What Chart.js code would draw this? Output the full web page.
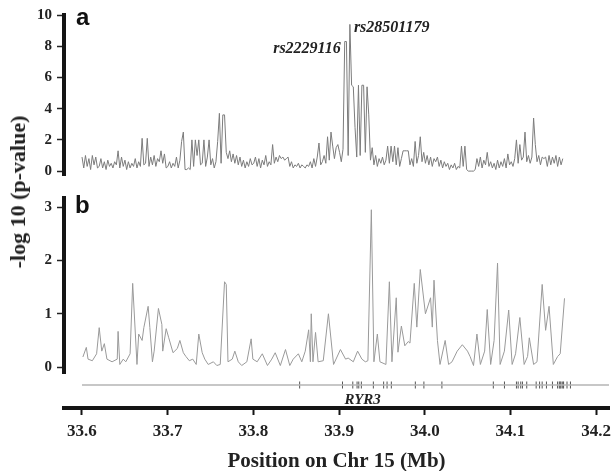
<!DOCTYPE html>
<html><head><meta charset="utf-8">
<script src="https://cdn.jsdelivr.net/npm/chart.js@4/dist/chart.umd.min.js"></script>
<style>
html,body{margin:0;padding:0;background:#fff;width:614px;height:471px;overflow:hidden;position:relative}
canvas{position:absolute;left:0}
#ytitle{position:absolute;left:18px;top:192px;transform:translate(-50%,-50%) rotate(-90deg);white-space:nowrap;font:bold 22px "Liberation Serif",serif;color:#222}
</style></head><body>
<canvas id="ca" width="614" height="186" style="top:0"></canvas>
<canvas id="cb" width="614" height="200" style="top:185px"></canvas>
<canvas id="cc" width="614" height="119" style="top:355px"></canvas>
<div id="ytitle">-log 10 (p-value)</div>
<script>
// ---- data ----
const xTicks = [33.6, 33.7, 33.8, 33.9, 34.0, 34.1, 34.2];
const xTickLabels = ['33.6', '33.7', '33.8', '33.9', '34.0', '34.1', '34.2'];
const aTicks = [0, 2, 4, 6, 8, 10];
const bTicks = [0, 1, 2, 3];

// panel a: single-SNP -log10 p, SNPs every 0.002 Mb from 33.600
const aStart = 33.600, aStep = 0.002;
const aVal = [
 0.9,0.2,1.0,0.3,0.8,0.1,1.0,0.4,0.9,0.2,
 0.3,0.8,0.2,0.6,0.1,0.7,0.3,0.5,0.2,0.6,
 0.4,1.3,0.2,0.9,0.3,0.7,0.1,0.6,0.2,0.5,
 0.3,0.8,0.2,0.6,0.3,2.1,0.4,0.5,2.1,0.3,
 0.9,0.4,1.0,0.3,0.8,0.6,1.3,0.5,1.1,0.2,
 0.3,0.6,0.2,0.5,0.3,0.9,0.2,0.7,1.9,2.5,
 0.1,0.1,0.2,0.1,2.0,0.3,2.0,1.0,2.0,0.4,
 0.5,2.0,0.3,0.9,2.0,0.4,0.8,0.2,0.6,1.9,
 3.7,0.5,3.6,3.6,1.2,0.8,1.3,0.6,1.1,0.5,
 1.0,0.4,0.9,0.3,0.7,0.2,0.6,0.3,0.8,0.4,
 0.5,0.9,0.3,0.8,0.2,0.7,0.4,1.0,0.3,0.6,
 0.4,1.7,0.5,0.9,0.6,1.0,0.8,0.9,0.7,0.8,
 0.9,0.3,0.6,0.2,0.4,0.3,0.5,0.2,0.4,0.3,
 0.2,0.4,0.3,0.6,0.2,0.8,0.3,0.9,1.8,0.4,
 0.6,1.0,0.5,2.2,0.7,2.5,1.6,0.8,1.5,1.7,
 1.2,0.6,1.4,8.3,8.3,1.0,9.4,5.5,5.4,2.8,
 0.9,5.5,1.0,5.5,5.5,1.2,5.4,3.6,0.7,1.5,
 0.4,1.0,0.3,0.8,0.5,0.9,0.4,0.7,1.6,0.5,
 1.6,0.6,1.6,0.4,1.5,0.3,0.8,1.3,1.3,1.3,
 1.3,0.4,0.8,0.3,1.9,0.5,1.0,2.2,0.6,1.2,
 0.5,1.0,0.4,0.9,0.3,0.8,0.6,0.9,0.3,0.7,
 0.2,0.6,0.3,0.5,0.1,0.4,0.2,0.5,0.1,0.3,
 0.2,1.6,0.3,1.6,0.1,0.0,0.0,0.0,0.0,0.1,
 0.8,0.3,0.9,0.2,0.7,0.4,1.2,0.3,0.6,0.2,
 0.5,0.1,0.7,0.2,0.6,0.3,0.8,0.2,1.1,0.4,
 0.6,0.3,0.8,2.0,0.5,1.7,0.7,0.9,2.5,0.6,
 1.0,0.5,0.9,3.4,1.7,0.6,1.0,0.4,0.9,0.8,
 0.9,0.3,1.0,0.4,0.9,0.5,1.0,0.3,0.9,0.4,
 0.8
];
const snpLabels = ['rs2229116', 'rs28501179'];
const snpLabelPos = [33.906, 33.912];
const snpLabelVal = [8.3, 9.4];

// panel b: haplotype-window -log10 p
const bPos = [
 33.601,33.605,33.607,33.612,33.617,33.620,33.623,33.626,33.629,33.635,
 33.641,33.642,33.644,33.648,33.651,33.656,33.659,33.664,33.666,33.670,
 33.672,33.677,33.679,33.682,33.684,33.689,33.693,33.694,33.698,33.701,
 33.706,33.711,33.714,33.718,33.721,33.725,33.729,33.733,33.736,33.740,
 33.743,33.747,33.753,33.757,33.761,33.766,33.768,33.770,33.775,33.778,
 33.782,33.786,33.792,33.797,33.799,33.804,33.810,33.816,33.821,33.825,
 33.831,33.837,33.842,33.846,33.852,33.856,33.860,33.864,33.866,33.867,
 33.869,33.872,33.875,33.881,33.887,33.893,33.901,33.907,33.910,33.916,
 33.921,33.926,33.930,33.933,33.937,33.940,33.944,33.947,33.954,33.958,
 33.961,33.966,33.968,33.972,33.976,33.980,33.982,33.987,33.990,33.994,
 34.000,34.006,34.008,34.010,34.014,34.017,34.023,34.027,34.031,34.037,
 34.043,34.049,34.052,34.056,34.060,34.064,34.069,34.072,34.076,34.080,
 34.084,34.087,34.092,34.097,34.101,34.105,34.110,34.115,34.119,34.121,
 34.126,34.130,34.136,34.140,34.144,34.149,34.154,34.157,34.162
];
const bVal = [
 0.19,0.37,0.15,0.12,0.25,0.74,0.30,0.44,0.15,0.10,
 0.15,0.67,0.05,0.15,0.10,0.25,1.57,0.05,0.62,0.50,
 0.74,1.14,0.74,0.10,0.30,1.10,0.80,0.30,0.72,0.55,
 0.27,0.35,0.50,0.27,0.20,0.12,0.15,0.05,0.62,0.27,
 0.15,0.05,0.10,0.03,0.05,1.60,1.55,0.10,0.15,0.30,
 0.10,0.03,0.10,0.53,0.15,0.10,0.25,0.03,0.15,0.27,
 0.03,0.33,0.03,0.15,0.25,0.10,0.30,0.70,0.10,1.00,
 0.10,0.65,0.10,0.12,1.00,0.05,0.33,0.15,0.17,0.10,
 0.30,0.15,0.10,0.12,2.95,0.10,0.62,0.10,0.05,1.60,
 0.10,1.30,0.28,0.77,0.40,0.48,0.45,1.57,0.75,1.83,
 1.00,1.30,0.75,1.63,0.50,0.05,0.50,0.05,0.10,0.30,
 0.42,0.30,0.20,0.03,0.62,0.05,0.30,1.08,0.05,0.50,
 1.95,0.05,0.30,1.07,0.05,0.25,0.93,0.05,0.20,0.55,
 0.05,0.10,1.55,0.69,1.14,0.05,0.20,0.25,1.29
];

// gene track (RYR3)
const geneName = 'RYR3';
const geneSpan = [33.600, 34.215];
const exonPos = [33.854,33.904,33.916,33.921,33.923,33.926,33.940,33.952,33.956,33.961,
 33.989,33.999,34.020,34.080,34.093,34.107,34.109,34.112,34.114,34.119,
 34.130,34.134,34.137,34.142,34.149,34.155,34.157,34.158,34.159,34.161,34.162,34.166,34.170];
const geneLabelPos = 33.9275;

// ---- layout constants ----
const xMin = 33.579, xMax = 34.215;
const SERIF = '"Liberation Serif", "Times New Roman", serif';
const SANS = '"Liberation Sans", Arial, sans-serif';

function yAxis(min, max, ticks) {
  return {
    type: 'linear', min, max,
    afterBuildTicks: s => { s.ticks = ticks.map(v => ({ value: v })); },
    afterFit: s => { s.width = 64; s.paddingTop = 0; s.paddingBottom = 0; },
    border: { display: true, width: 4, color: '#151515' },
    grid: { display: true, drawOnChartArea: false, drawTicks: true, tickLength: 7, tickWidth: 1.5, tickColor: '#222' },
    ticks: { padding: 5, color: '#222', font: { family: SERIF, weight: 'bold', size: 15 }, callback: v => String(v) }
  };
}
function hiddenX() {
  return { type: 'linear', min: xMin, max: xMax, display: false };
}
function labelPlugin(drawFn) {
  return { id: 'lbl' + Math.random().toString(36).slice(2), afterDatasetsDraw(chart) { const c = chart.ctx; c.save(); drawFn(chart, c); c.restore(); } };
}

const common = {
  responsive: false, animation: false, events: [],
  plugins: { legend: { display: false }, tooltip: { enabled: false } }
};

// ---- chart a ----
new Chart(document.getElementById('ca'), {
  type: 'line',
  data: { datasets: [{
    data: aVal.map((v, i) => ({ x: +(aStart + i * aStep).toFixed(3), y: v })),
    borderColor: '#7c7c7c', borderWidth: 1, pointRadius: 0, tension: 0
  }]},
  options: Object.assign({}, common, {
    layout: { padding: { left: 0, right: 4, top: 15, bottom: 11 } },
    scales: { x: hiddenX(), y: yAxis(-0.25, 10, aTicks) }
  }),
  plugins: [labelPlugin((ch, c) => {
    const a = ch.chartArea, xs = ch.scales.x, ys = ch.scales.y;
    c.fillStyle = '#111';
    c.font = 'bold 24px ' + SANS;
    c.textBaseline = 'alphabetic'; c.textAlign = 'left';
    c.fillText('a', a.left + 12, a.top + 10);
    c.font = 'italic bold 16px ' + SERIF;
    c.fillStyle = '#222';
    snpLabels.forEach((t, i) => {
      const px = xs.getPixelForValue(snpLabelPos[i]);
      const py = ys.getPixelForValue(snpLabelVal[i]);
      if (i === 0) { c.textAlign = 'right'; c.fillText(t, px - 4, py + 11); }
      else { c.textAlign = 'left'; c.fillText(t, px + 4, py + 8); }
    });
  })]
});

// ---- chart b ----
new Chart(document.getElementById('cb'), {
  type: 'line',
  data: { datasets: [{
    data: bPos.map((p, i) => ({ x: p, y: bVal[i] })),
    borderColor: '#9a9a9a', borderWidth: 1, pointRadius: 0, tension: 0
  }]},
  options: Object.assign({}, common, {
    layout: { padding: { left: 0, right: 4, top: 13, bottom: 12 } },
    scales: { x: hiddenX(), y: yAxis(-0.11, 3.17, bTicks) }
  }),
  plugins: [labelPlugin((ch, c) => {
    const a = ch.chartArea;
    c.fillStyle = '#111';
    c.font = 'bold 24px ' + SANS;
    c.textBaseline = 'alphabetic'; c.textAlign = 'left';
    c.fillText('b', a.left + 11, a.top + 15);
  })]
});

// ---- chart c: gene track + x axis ----
new Chart(document.getElementById('cc'), {
  type: 'line',
  data: { datasets: [
    { data: geneSpan.map(p => ({ x: p, y: 0 })), borderColor: '#b5b5b5', borderWidth: 1.5, pointRadius: 0 },
    { data: exonPos.map(p => ({ x: p, y: 0 })), showLine: false, pointStyle: 'line', rotation: 90,
      pointRadius: 3.5, pointBorderWidth: 1, pointBorderColor: '#555', borderColor: '#555' }
  ]},
  options: Object.assign({}, common, {
    layout: { padding: { left: 0, right: 4, top: 7, bottom: 0 } },
    scales: {
      x: {
        type: 'linear', min: xMin, max: xMax,
        afterBuildTicks: s => { s.ticks = xTicks.map(v => ({ value: v })); },
        afterFit: s => { s.height = 66; s.paddingLeft = 0; s.paddingRight = 0; },
        border: { display: true, width: 4, color: '#151515' },
        grid: { display: true, drawOnChartArea: false, drawTicks: true, tickLength: 7, tickWidth: 2, tickColor: '#151515' },
        ticks: { autoSkip: false, maxRotation: 0, padding: 6, color: '#222',
          font: { family: SERIF, weight: 'bold', size: 17 }, callback: (v, i) => xTickLabels[i] },
        title: { display: true, text: 'Position on Chr 15 (Mb)', color: '#222',
          font: { family: SERIF, weight: 'bold', size: 21, lineHeight: 1.2 }, padding: { top: 0, bottom: 0 } }
      },
      y: {
        type: 'linear', min: -1, max: 1,
        afterFit: s => { s.width = 64; s.paddingTop = 0; s.paddingBottom = 0; },
        border: { display: false }, grid: { display: false }, ticks: { display: false }
      }
    }
  }),
  plugins: [labelPlugin((ch, c) => {
    const xs = ch.scales.x, ys = ch.scales.y;
    c.fillStyle = '#222';
    c.font = 'italic bold 15px ' + SERIF;
    c.textAlign = 'center'; c.textBaseline = 'middle';
    c.fillText(geneName, xs.getPixelForValue(geneLabelPos), ys.getPixelForValue(-0.65));
  })]
});
</script>
</body></html>
